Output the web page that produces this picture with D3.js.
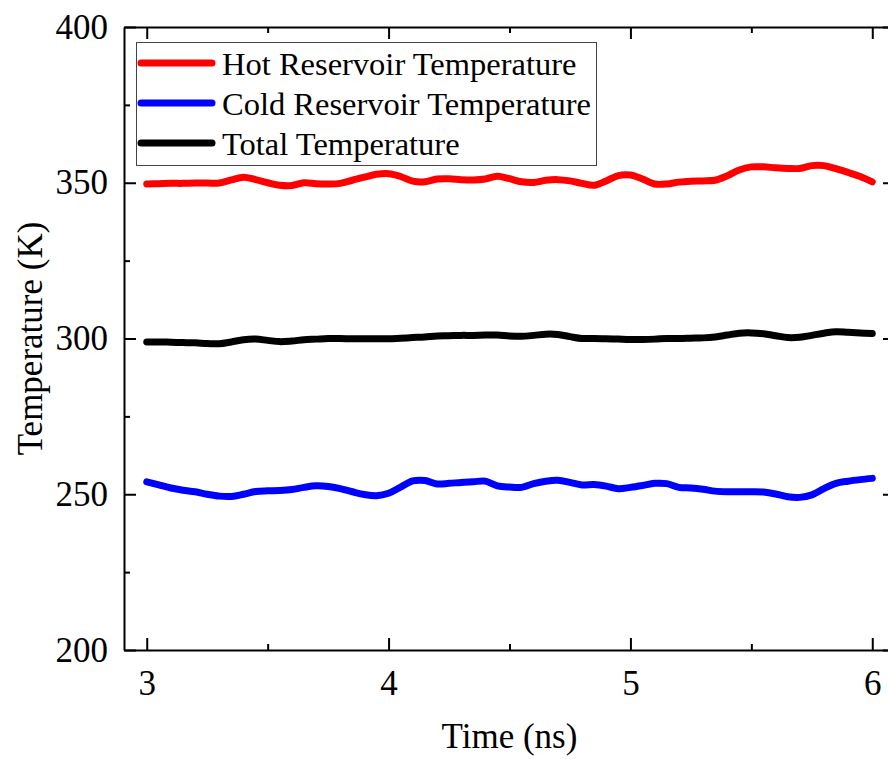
<!DOCTYPE html>
<html>
<head>
<meta charset="utf-8">
<script src="https://cdn.jsdelivr.net/npm/d3@7"></script>
<style>
  html, body { margin: 0; padding: 0; background: #fff; }
  svg text { font-family: "Liberation Serif", "Times New Roman", serif; fill: #000; }
</style>
</head>
<body>
<div id="chart"></div>
<script>
const width = 888;
const height = 759;

// time grid (ns)
const time = d3.range(0, 61).map(i => +(3 + i * 0.05).toFixed(2));

const hot = [
  349.6, 349.7, 349.8, 349.8, 349.9, 349.9, 349.9, 350.9, 351.8, 351.0,
  350.0, 349.2, 349.1, 350.0, 349.7, 349.6, 349.8, 350.8, 351.8, 352.7,
  352.9, 352.0, 350.5, 350.3, 351.2, 351.3, 351.0, 350.9, 351.2, 352.1,
  351.3, 350.3, 350.1, 350.8, 351.0, 350.6, 349.8, 349.2, 350.6, 352.3,
  352.5, 351.2, 349.6, 349.6, 350.2, 350.5, 350.6, 350.8, 352.2, 354.1,
  355.1, 355.1, 354.8, 354.6, 354.6, 355.5, 355.5, 354.5, 353.3, 352.0,
  350.3
];

const cold = [
  254.0, 253.0, 252.0, 251.3, 250.8, 250.0, 249.4, 249.3, 250.0, 250.9,
  251.1, 251.2, 251.5, 252.2, 252.7, 252.5, 251.8, 250.8, 249.9, 249.5,
  250.3, 252.3, 254.3, 254.4, 253.3, 253.5, 253.8, 254.0, 254.2, 252.7,
  252.3, 252.2, 253.4, 254.2, 254.5, 253.8, 253.0, 253.1, 252.6, 251.8,
  252.2, 252.8, 253.5, 253.4, 252.2, 252.0, 251.6, 251.0, 250.8, 250.8,
  250.8, 250.7, 250.1, 249.2, 249.0, 249.8, 251.8, 253.5, 254.2, 254.7,
  255.1
];

const total = [
  298.9, 298.9, 298.8, 298.7, 298.6, 298.4, 298.3, 298.9, 299.6, 299.8,
  299.4, 299.0, 299.2, 299.6, 299.8, 300.0, 300.0, 299.9, 299.9, 299.9,
  299.9, 300.1, 300.3, 300.5, 300.8, 300.9, 301.0, 301.0, 301.1, 301.1,
  300.8, 300.7, 301.0, 301.4, 301.3, 300.6, 300.0, 300.0, 299.9, 299.8,
  299.7, 299.7, 299.8, 300.0, 300.0, 300.1, 300.2, 300.5, 301.1, 301.7,
  301.8, 301.5, 300.9, 300.3, 300.4, 301.0, 301.7, 302.2, 302.0, 301.8,
  301.6
];

const seriesNames = ["Hot Reservoir Temperature", "Cold Reservoir Temperature", "Total Temperature"];
const seriesColors = ["#ff0000", "#0000ff", "#000000"];
const seriesValues = [hot, cold, total];

const xTicks = [3, 4, 5, 6];
const xMinor = [3.5, 4.5, 5.5];
const yTicks = [200, 250, 300, 350, 400];
const yMinor = [225, 275, 325, 375];

const frame = { left: 124, top: 27, right: 895, bottom: 650 };

const x = d3.scaleLinear().domain([2.906, 6.094]).range([frame.left, frame.right]);
const y = d3.scaleLinear().domain([200, 400]).range([frame.bottom, frame.top]);

const svg = d3.select("#chart").append("svg")
  .attr("width", width)
  .attr("height", height);

// axes with inward ticks
function styleAxis(g) {
  g.selectAll("path.domain").attr("stroke", "#000").attr("stroke-width", 2);
  g.selectAll(".tick line").attr("stroke", "#000").attr("stroke-width", 2);
}

const axisB = svg.append("g").attr("transform", `translate(0,${frame.bottom})`)
  .call(d3.axisBottom(x).tickValues(xTicks).tickSize(-12).tickSizeOuter(0).tickPadding(20).tickFormat(d3.format("d")));
axisB.selectAll("text").attr("font-size", 35);
styleAxis(axisB);
svg.append("g").attr("transform", `translate(0,${frame.bottom})`)
  .call(d3.axisBottom(x).tickValues(xMinor).tickSize(-6).tickSizeOuter(0).tickFormat(""))
  .call(styleAxis).select("path.domain").remove();

const axisT = svg.append("g").attr("transform", `translate(0,${frame.top})`)
  .call(d3.axisTop(x).tickValues(xTicks).tickSize(-12).tickSizeOuter(0).tickFormat(""));
styleAxis(axisT);
svg.append("g").attr("transform", `translate(0,${frame.top})`)
  .call(d3.axisTop(x).tickValues(xMinor).tickSize(-6).tickSizeOuter(0).tickFormat(""))
  .call(styleAxis).select("path.domain").remove();

const axisL = svg.append("g").attr("transform", `translate(${frame.left},0)`)
  .call(d3.axisLeft(y).tickValues(yTicks).tickSize(-12).tickSizeOuter(0).tickPadding(16).tickFormat(d3.format("d")));
axisL.selectAll("text").attr("font-size", 35);
styleAxis(axisL);
svg.append("g").attr("transform", `translate(${frame.left},0)`)
  .call(d3.axisLeft(y).tickValues(yMinor).tickSize(-6).tickSizeOuter(0).tickFormat(""))
  .call(styleAxis).select("path.domain").remove();

const axisR = svg.append("g").attr("transform", `translate(${frame.right},0)`)
  .call(d3.axisRight(y).tickValues(yTicks).tickSize(-12).tickSizeOuter(0).tickFormat(""));
styleAxis(axisR);
svg.append("g").attr("transform", `translate(${frame.right},0)`)
  .call(d3.axisRight(y).tickValues(yMinor).tickSize(-6).tickSizeOuter(0).tickFormat(""))
  .call(styleAxis).select("path.domain").remove();

// axis titles
svg.append("text")
  .attr("x", (x(3) + x(6)) / 2)
  .attr("y", 748)
  .attr("text-anchor", "middle")
  .attr("font-size", 35)
  .text("Time (ns)");

svg.append("text")
  .attr("transform", `translate(42,${(frame.top + frame.bottom) / 2}) rotate(-90)`)
  .attr("text-anchor", "middle")
  .attr("font-size", 35)
  .text("Temperature (K)");

// data lines
const line = d3.line()
  .x((d, i) => x(time[i]))
  .y(d => y(d))
  .curve(d3.curveCatmullRom.alpha(0.5));

svg.append("g")
  .selectAll("path")
  .data(seriesValues)
  .join("path")
  .attr("d", d => line(d))
  .attr("fill", "none")
  .attr("stroke", (d, i) => seriesColors[i])
  .attr("stroke-width", 7)
  .attr("stroke-linecap", "round")
  .attr("stroke-linejoin", "round");

// legend
const legend = svg.append("g");
legend.append("rect")
  .attr("x", 136.5).attr("y", 42.5)
  .attr("width", 460).attr("height", 123)
  .attr("fill", "#fff")
  .attr("stroke", "#444")
  .attr("stroke-width", 1);

const rows = legend.selectAll("g.row")
  .data(seriesNames)
  .join("g")
  .attr("class", "row")
  .attr("transform", (d, i) => `translate(0,${63 + i * 40})`);

rows.append("line")
  .attr("x1", 141).attr("x2", 212)
  .attr("stroke", (d, i) => seriesColors[i])
  .attr("stroke-width", 7)
  .attr("stroke-linecap", "round");

rows.append("text")
  .attr("x", 222)
  .attr("y", 12)
  .attr("font-size", 32.5)
  .text(d => d);
</script>
</body>
</html>
